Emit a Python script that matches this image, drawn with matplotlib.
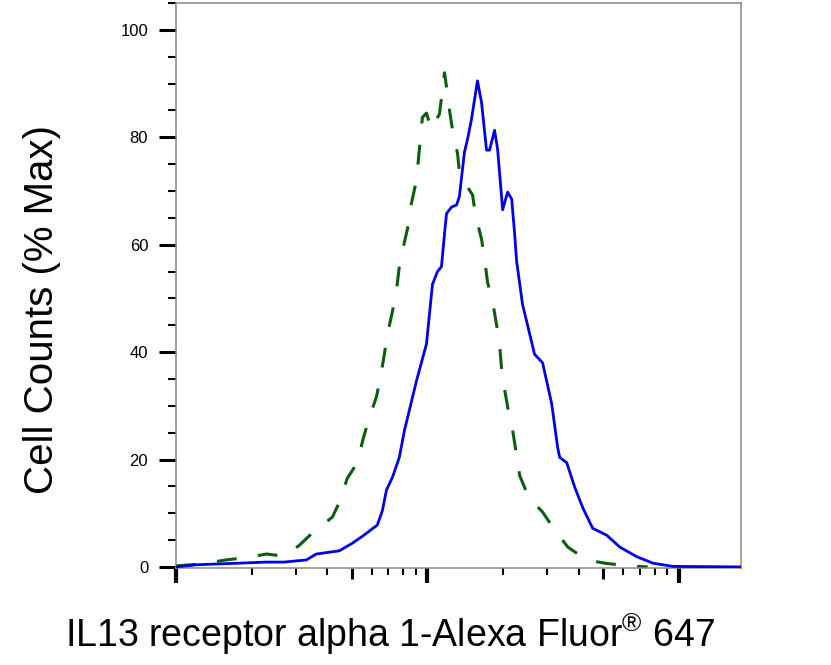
import matplotlib
matplotlib.use('Agg')
import matplotlib.pyplot as plt
from matplotlib.ticker import LogLocator, NullLocator, MultipleLocator, FixedLocator

plt.rcParams['font.family'] = ['Liberation Sans', 'DejaVu Sans']
plt.rcParams['mathtext.fontset'] = 'custom'
plt.rcParams['mathtext.rm'] = 'Liberation Sans'

# fluorescence intensity (log scale) and % of max
stained_x = [10.0, 12.02, 17.8, 22.9, 26.9, 33.0, 36.1, 44.6, 50.2, 55.1, 63.2, 66.2,
             68.7, 72.6, 77.3, 81.0, 90.4, 99.1, 104.7, 109.6, 113.7, 116.9, 119.1,
             124.7, 130.6, 134.0, 140.3, 144.3, 149.6, 158.1, 164.1, 171.8, 176.6,
             184.9, 190.1, 199.1, 208.4, 216.3, 222.3, 226.3, 238.8, 266.7, 287.1,
             311.9, 329.6, 335.7, 358.1, 385.5, 414.9, 454.0, 516.4, 582.1, 680.3,
             787.7, 946.7, 1766.0]
stained_y = [0.0, 0.4, 0.7, 0.9, 0.9, 1.3, 2.4, 3.0, 4.4, 5.7, 7.8, 10.5,
             14.3, 16.7, 20.4, 25.4, 34.6, 41.5, 52.6, 55.0, 55.9, 62.0, 65.8,
             67.0, 67.4, 69.0, 77.2, 79.6, 83.3, 90.5, 86.5, 77.6, 77.6,
             81.3, 77.8, 66.5, 69.8, 68.5, 61.9, 56.9, 48.9, 39.6, 38.0,
             30.4, 22.2, 20.4, 19.4, 14.8, 11.0, 7.2, 5.9, 3.7, 1.9,
             0.7, 0.1, 0.0]

control_x = [10.0, 12.35, 15.8, 19.5, 22.9, 26.9, 30.9, 34.8, 41.9, 44.6, 48.0, 52.6,
             55.6, 58.2, 62.7, 65.0, 67.4, 69.3, 72.6, 75.2, 77.3, 80.2, 84.0, 86.3,
             90.4, 92.0, 93.8, 95.5, 99.1, 103.7, 107.6, 111.6, 114.8, 116.9, 120.2,
             122.4, 125.9, 131.8, 134.0, 142.9, 151.1, 155.2, 164.1, 168.7, 173.4,
             181.6, 188.4, 193.6, 197.2, 202.8, 210.4, 218.3, 232.8, 252.5, 287.1,
             320.6, 361.4, 429.5, 507.0, 620.9, 751.6]
control_y = [0.2, 0.5, 1.3, 1.8, 2.4, 2.0, 4.0, 6.3, 9.3, 12.0, 16.5, 19.4,
             24.0, 27.2, 31.7, 35.2, 39.6, 43.3, 47.6, 51.3, 55.9, 59.6, 63.7, 67.6,
             72.0, 75.7, 80.0, 83.7, 84.5, 81.5, 83.0, 84.3, 88.9, 92.0, 88.0,
             85.0, 81.3, 76.9, 73.5, 71.0, 69.3, 65.6, 61.0, 57.4, 53.0,
             49.4, 45.0, 41.5, 36.8, 33.0, 28.7, 25.4, 17.0, 13.0, 10.2,
             6.9, 3.7, 1.3, 0.7, 0.2, 0.0]

y_major = [0, 20, 40, 60, 80, 100]
x_label = r'IL13 receptor alpha 1-Alexa Fluor$^{\mathrm{®}}$ 647'
y_label = 'Cell Counts (% Max)'

fig = plt.figure(figsize=(8.31, 6.65), dpi=100)
ax = fig.add_axes([176 / 831, 1 - 568 / 665, 565 / 831, 565 / 665])

ax.plot(control_x, control_y, color='#0b5e0b', lw=2.2, linestyle=(0, (6.5, 7.0)), zorder=2)
ax.plot(stained_x, stained_y, color='#0000e6', lw=2.0, zorder=3)

ax.set_xscale('log')
ax.set_xlim(10, 10 ** 3.247)
ax.set_ylim(-0.2, 105)

for s in ax.spines.values():
    s.set_color('#888888')
    s.set_linewidth(1.1)

ax.yaxis.set_major_locator(FixedLocator(y_major))
ax.yaxis.set_minor_locator(MultipleLocator(5))
ax.tick_params(axis='y', which='major', direction='out', length=12, width=2.2,
               color='black', labelsize=12, pad=8)
ax.tick_params(axis='y', which='minor', direction='out', length=6, width=1.5, color='black')

ax.xaxis.set_major_locator(LogLocator(base=10, subs=[1.0]))
ax.xaxis.set_minor_locator(LogLocator(base=10, subs=[2, 3, 4, 6, 7, 8, 9]))
ax.tick_params(axis='x', which='major', direction='out', length=11, width=3,
               color='black', labelbottom=False)
ax.tick_params(axis='x', which='minor', direction='out', length=5, width=1.5,
               color='black', labelbottom=False)

# mid-decade ticks are a bit longer
sec = ax.secondary_xaxis('bottom')
sec.set_xticks([50, 500])
sec.xaxis.set_minor_locator(NullLocator())
sec.tick_params(axis='x', which='major', direction='out', length=8, width=2.2,
                color='black', labelbottom=False)
sec.spines['bottom'].set_visible(False)

fig.text(42 / 831, 1 - 310 / 665, y_label, rotation=90, ha='center', va='center', fontsize=29)
fig.text(390 / 831, 1 - 647 / 665, x_label, ha='center', va='baseline', fontsize=27)

fig.savefig('out.png', dpi=100)
